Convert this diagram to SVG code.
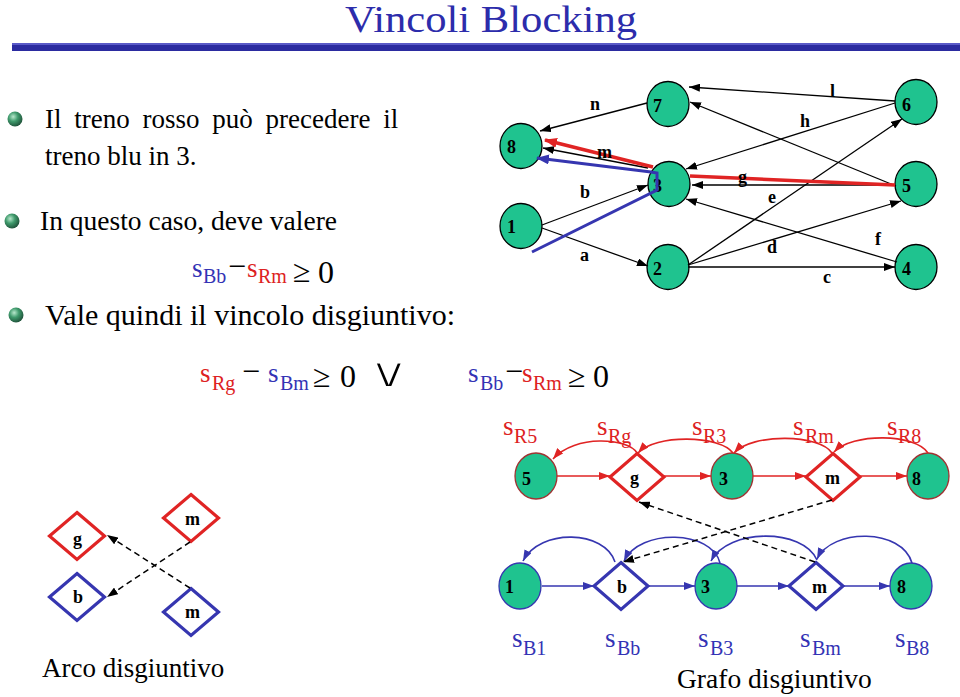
<svg xmlns="http://www.w3.org/2000/svg" width="960" height="697" viewBox="0 0 960 697">
<defs>
<marker id="ak" markerUnits="userSpaceOnUse" markerWidth="11" markerHeight="8" refX="11" refY="4" orient="auto"><path d="M0,0 L11,4 L0,8 z" fill="#000"/></marker>
<marker id="ar" markerUnits="userSpaceOnUse" markerWidth="11" markerHeight="8" refX="11" refY="4" orient="auto"><path d="M0,0 L11,4 L0,8 z" fill="#e02424"/></marker>
<marker id="ab" markerUnits="userSpaceOnUse" markerWidth="11" markerHeight="8" refX="11" refY="4" orient="auto"><path d="M0,0 L11,4 L0,8 z" fill="#3636b0"/></marker>
<marker id="arL" markerUnits="userSpaceOnUse" markerWidth="13" markerHeight="10" refX="12" refY="5" orient="auto"><path d="M0,0 L13,5 L0,10 z" fill="#e02424"/></marker>
<marker id="abL" markerUnits="userSpaceOnUse" markerWidth="13" markerHeight="10" refX="12" refY="5" orient="auto"><path d="M0,0 L13,5 L0,10 z" fill="#3636b0"/></marker>
<radialGradient id="sph" cx="0.38" cy="0.35" r="0.7"><stop offset="0" stop-color="#b8e8cc"/><stop offset="0.45" stop-color="#3f9a6c"/><stop offset="1" stop-color="#1d4d36"/></radialGradient>
</defs>
<style>
text{font-family:"Liberation Serif","Times New Roman",serif}
.t{font-size:27px;fill:#000}
.lb{font-size:18px;font-weight:bold;fill:#000}
.nd{fill:#1fc38f;stroke:#000;stroke-width:1.3}
.ndr{fill:#1fc38f;stroke:#a03232;stroke-width:1.3}
.ndb{fill:#1fc38f;stroke:#3636b0;stroke-width:1.3}
.dr{fill:#fff;stroke:#e02424;stroke-width:3.2}
.db{fill:#fff;stroke:#3636b0;stroke-width:3.2}
.ek{fill:none;stroke:#000;stroke-width:1.3;marker-end:url(#ak)}
.er{fill:none;stroke:#e02424;stroke-width:1.6;marker-end:url(#ar)}
.eb{fill:none;stroke:#3636b0;stroke-width:1.6;marker-end:url(#ab)}
.ed{fill:none;stroke:#000;stroke-width:1.5;stroke-dasharray:6 4;marker-end:url(#ak)}
.s{font-size:27px}
.sub{font-size:20px}
.R{fill:#dd2222}
.B{fill:#3333b5}
.big{font-size:32px;fill:#000}
</style>

<!-- title -->
<text x="345" y="32" font-size="37" fill="#2c2cab" textLength="292" lengthAdjust="spacingAndGlyphs">Vincoli Blocking</text>
<rect x="12" y="43" width="948" height="8" fill="#2b2ba0"/>
<rect x="12" y="43" width="948" height="2" fill="#5a5ac8"/>

<!-- bullets -->
<circle cx="15" cy="119" r="7.5" fill="url(#sph)"/>
<circle cx="12" cy="221" r="7.5" fill="url(#sph)"/>
<circle cx="16" cy="315" r="7.5" fill="url(#sph)"/>
<text class="t" x="45" y="128" word-spacing="6">Il treno rosso può precedere il</text>
<text class="t" x="45" y="165">treno blu in 3.</text>
<text class="t" x="40" y="230" style="font-size:27.5px">In questo caso, deve valere</text>
<text class="t" x="45" y="325" style="font-size:30px">Vale quindi il vincolo disgiuntivo:</text>

<!-- equation 1 -->
<g id="eq1">
<text class="s B" x="192" y="277">s</text><text class="sub B" x="203" y="283">Bb</text>
<text class="big" x="228" y="277">−</text>
<text class="s R" x="247" y="277">s</text><text class="sub R" x="258" y="283">Rm</text>
<text class="big" x="293" y="282">≥</text><text class="big" x="318" y="283">0</text>
</g>
<!-- equation 2 -->
<g id="eq2">
<text class="s R" x="200" y="382">s</text><text class="sub R" x="212" y="390">Rg</text>
<text class="big" x="242" y="382">−</text>
<text class="s B" x="268" y="382">s</text><text class="sub B" x="280" y="390">Bm</text>
<text class="big" x="313" y="387">≥</text><text class="big" x="340" y="387">0</text>
<text x="0" y="0" transform="translate(368,387) scale(1.35,1)" fill="#000" stroke="#fff" stroke-width="1.8" style="font-family:'DejaVu Sans',sans-serif;font-size:42px">∨</text>
<text class="s B" x="468" y="382">s</text><text class="sub B" x="480" y="390">Bb</text>
<text class="big" x="505" y="382">−</text>
<text class="s R" x="522" y="382">s</text><text class="sub R" x="533" y="390">Rm</text>
<text class="big" x="568" y="387">≥</text><text class="big" x="593" y="387">0</text>
</g>

<!-- top graph nodes -->
<g id="n8"><ellipse class="nd" cx="521" cy="146" rx="21" ry="22.5"/><text class="lb" x="507" y="153">8</text></g>
<g id="n7"><ellipse class="nd" cx="668" cy="104" rx="21" ry="22.5"/><text class="lb" x="653" y="112">7</text></g>
<g id="n6"><ellipse class="nd" cx="916" cy="102" rx="21" ry="22.5"/><text class="lb" x="902" y="111">6</text></g>
<g id="n5"><ellipse class="nd" cx="916" cy="184" rx="21" ry="22.5"/><text class="lb" x="902" y="192">5</text></g>
<g id="n3"><ellipse class="nd" cx="669" cy="184" rx="21" ry="22.5"/><text class="lb" x="653" y="192">3</text></g>
<g id="n1"><ellipse class="nd" cx="521" cy="226" rx="21" ry="22.5"/><text class="lb" x="507" y="233">1</text></g>
<g id="n2"><ellipse class="nd" cx="668" cy="267" rx="21" ry="22.5"/><text class="lb" x="653" y="275">2</text></g>
<g id="n4"><ellipse class="nd" cx="916" cy="267" rx="21" ry="22.5"/><text class="lb" x="902" y="275">4</text></g>

<!-- top graph connectors -->
<g id="edges-top">
<path class="ek" d="M647,103 L540,131"/>
<path class="ek" d="M895,101 L689,87"/>
<path class="ek" d="M896,186 L690,102"/>
<path class="ek" d="M895,103 L686,169"/>
<path class="ek" d="M688,265 L902,119"/>
<path class="ek" d="M895,185 L692,185"/>
<path class="ek" d="M897,262 L686,199"/>
<path class="ek" d="M688,265 L901,201"/>
<path class="ek" d="M688,267 L895,267"/>
<path class="ek" d="M542,225 L648,185"/>
<path class="ek" d="M542,228 L648,266"/>
<path class="ek" d="M648,168 L543,148"/>
<path d="M895,185 L690,176" fill="none" stroke="#e02424" stroke-width="3.5"/>
<path d="M653,167 L545,140" fill="none" stroke="#e02424" stroke-width="3.5" marker-end="url(#arL)"/>
<path d="M532,252 L657,190 L657,173 L651,172 L537,158" fill="none" stroke="#3636b0" stroke-width="3" stroke-linejoin="miter" marker-end="url(#abL)"/>
</g>
<g id="edge-labels-top">
<text class="lb" x="590" y="110">n</text>
<text class="lb" x="597" y="158">m</text>
<text class="lb" x="580" y="198">b</text>
<text class="lb" x="580" y="261">a</text>
<text class="lb" x="738" y="183">g</text>
<text class="lb" x="768" y="203">e</text>
<text class="lb" x="800" y="127">h</text>
<text class="lb" x="830" y="97">l</text>
<text class="lb" x="767" y="253">d</text>
<text class="lb" x="875" y="245">f</text>
<text class="lb" x="823" y="283">c</text>
</g>

<!-- bottom graph: red row -->
<g id="r5"><ellipse class="ndr" cx="536" cy="476" rx="21" ry="23"/><text class="lb" x="522" y="485">5</text></g>
<g id="rg"><path class="dr" d="M637,453.5 L664,477 L637,500.5 L610,477 z"/><text class="lb" x="630" y="484">g</text></g>
<g id="r3"><ellipse class="ndr" cx="732" cy="476" rx="21" ry="23"/><text class="lb" x="719" y="485">3</text></g>
<g id="rm"><path class="dr" d="M833,453.5 L860,477 L833,500.5 L806,477 z"/><text class="lb" x="825" y="484">m</text></g>
<g id="r8"><ellipse class="ndr" cx="928" cy="476" rx="21" ry="23"/><text class="lb" x="912" y="485">8</text></g>

<!-- bottom graph: blue row -->
<g id="b1"><ellipse class="ndb" cx="520" cy="586" rx="21" ry="23"/><text class="lb" x="505" y="593">1</text></g>
<g id="bb"><path class="db" d="M621,562.5 L648,586 L621,609.5 L594,586 z"/><text class="lb" x="617" y="593">b</text></g>
<g id="b3"><ellipse class="ndb" cx="716" cy="586" rx="21" ry="23"/><text class="lb" x="701" y="593">3</text></g>
<g id="bm"><path class="db" d="M816,562.5 L843,586 L816,609.5 L789,586 z"/><text class="lb" x="812" y="593">m</text></g>
<g id="b8"><ellipse class="ndb" cx="911" cy="586" rx="21" ry="23"/><text class="lb" x="897" y="593">8</text></g>

<g id="edges-bottom">
<path class="er" d="M557,476 L610,476"/>
<path class="er" d="M664,476 L711,476"/>
<path class="er" d="M753,476 L806,476"/>
<path class="er" d="M860,476 L907,476"/>
<path class="er" d="M637,453 C628,438 575,434 553,459"/>
<path class="er" d="M733,453 C720,435 655,434 638,453"/>
<path class="er" d="M832,453 C820,434 752,433 734,453"/>
<path class="er" d="M928,453 C915,433 852,433 834,452"/>
<path class="eb" d="M542,586 L594,586"/>
<path class="eb" d="M648,586 L695,586"/>
<path class="eb" d="M737,586 L789,586"/>
<path class="eb" d="M843,586 L890,586"/>
<path class="eb" d="M615,562 C605,530 540,528 523,561"/>
<path class="eb" d="M720,563 C712,530 640,528 624,561"/>
<path class="eb" d="M817,560 C803,528 728,528 711,561"/>
<path class="eb" d="M912,563 C902,528 832,528 817,559"/>
<path class="ed" d="M832,500 L623,562"/>
<path class="ed" d="M815,562 L639,502"/>
</g>

<g id="labels-red">
<text class="s R" x="503" y="435">s</text><text class="sub R" x="514" y="443">R5</text>
<text class="s R" x="597" y="435">s</text><text class="sub R" x="608" y="443">Rg</text>
<text class="s R" x="692" y="435">s</text><text class="sub R" x="703" y="443">R3</text>
<text class="s R" x="793" y="435">s</text><text class="sub R" x="805" y="443">Rm</text>
<text class="s R" x="887" y="435">s</text><text class="sub R" x="898" y="443">R8</text>
</g>
<g id="labels-blue">
<text class="s B" x="512" y="647">s</text><text class="sub B" x="523" y="655">B1</text>
<text class="s B" x="605" y="647">s</text><text class="sub B" x="617" y="655">Bb</text>
<text class="s B" x="698" y="647">s</text><text class="sub B" x="710" y="655">B3</text>
<text class="s B" x="800" y="647">s</text><text class="sub B" x="812" y="655">Bm</text>
<text class="s B" x="895" y="647">s</text><text class="sub B" x="906" y="655">B8</text>
</g>
<text class="t" x="677" y="688" style="font-size:27.5px">Grafo disgiuntivo</text>

<!-- arco disgiuntivo -->
<g id="ag"><path class="dr" d="M77,512.5 L104.5,536 L77,559.5 L49.5,536 z"/><text class="lb" x="73" y="545">g</text></g>
<g id="am1"><path class="dr" d="M191,494.5 L218.5,518 L191,541.5 L163.5,518 z"/><text class="lb" x="185" y="525">m</text></g>
<g id="ab1"><path class="db" d="M77,573.5 L104.5,597 L77,620.5 L49.5,597 z"/><text class="lb" x="73" y="603">b</text></g>
<g id="am2"><path class="db" d="M191,588.5 L218.5,612 L191,635.5 L163.5,612 z"/><text class="lb" x="185" y="618">m</text></g>
<g id="edges-arco">
<path class="ed" d="M190,542 L107,597"/>
<path class="ed" d="M190,588 L107,535"/>
</g>
<text class="t" x="42" y="677">Arco disgiuntivo</text>
</svg>
